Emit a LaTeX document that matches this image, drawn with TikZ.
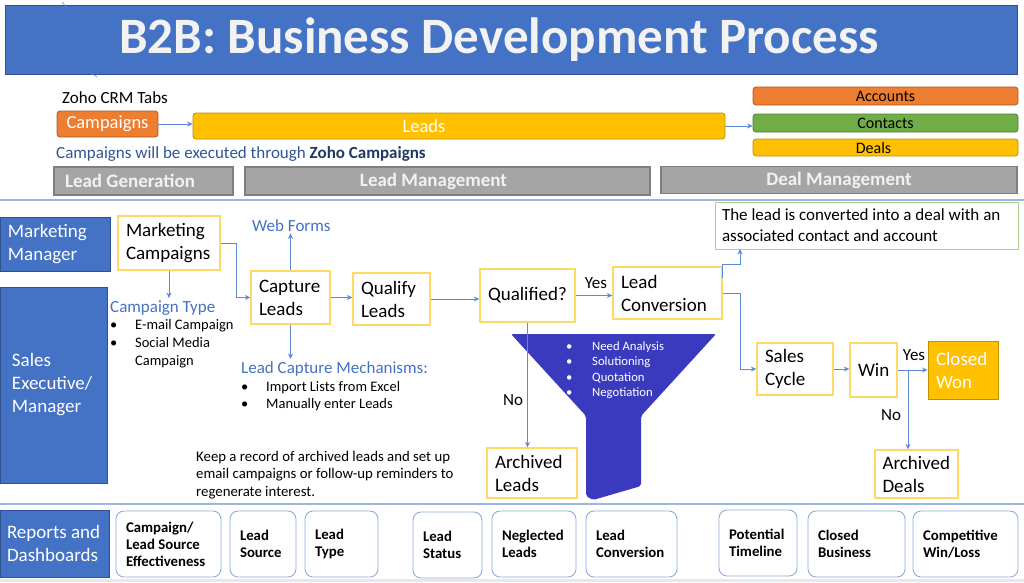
\documentclass[tikz,border=0pt]{standalone}
\usepackage{fontspec}
\setmainfont{Carlito}
\usetikzlibrary{arrows.meta}
\definecolor{tblue}{HTML}{4472C4}
\definecolor{tborder}{HTML}{2F528F}
\definecolor{orng}{HTML}{ED7D31}
\definecolor{orngb}{HTML}{AE5A21}
\definecolor{gold}{HTML}{FFC000}
\definecolor{goldb}{HTML}{BF9000}
\definecolor{grn}{HTML}{70AD47}
\definecolor{grnb}{HTML}{507E32}
\definecolor{greyf}{HTML}{A5A5A5}
\definecolor{greyb}{HTML}{7F7F7F}
\definecolor{ybord}{HTML}{FFD966}
\definecolor{ablue}{HTML}{5B8BD8}
\definecolor{sepblue}{HTML}{9DB7E3}
\definecolor{repb}{HTML}{8FAADC}
\definecolor{funnelc}{HTML}{3A3ABE}
\definecolor{navytext}{HTML}{2F5597}
\definecolor{navybold}{HTML}{203864}
\definecolor{notegreen}{HTML}{A9D18E}
\definecolor{titletext}{HTML}{F2F2F2}
\begin{document}
\hyphenpenalty=10000 \exhyphenpenalty=10000
\begin{tikzpicture}[x=1pt,y=-1pt,
  arr/.style={draw=ablue, line width=0.9pt, -{Stealth[length=5.5pt,width=5pt]}},
  yb/.style={draw=ybord, line width=1.3pt, fill=white, inner xsep=8pt, inner ysep=0pt, align=flush left, font=\fontsize{19}{23}\selectfont},
  role/.style={draw=tborder, line width=1pt, fill=tblue, text=white, inner ysep=0pt, align=flush left, font=\fontsize{19}{23}\selectfont},
  rep/.style={draw=repb, line width=0.9pt, rounded corners=8pt, fill=white, inner xsep=10pt, inner ysep=0pt, minimum height=66pt, align=flush left, font=\bfseries\fontsize{14.8}{17}\selectfont},
  gbar/.style={draw=greyb, line width=1.2pt, fill=greyf, text=titletext, font=\bfseries\fontsize{19}{22}\selectfont, inner sep=0pt},
  tab/.style={rounded corners=3pt, line width=0.8pt, inner sep=0pt},
  lbl/.style={font=\fontsize{17}{20}\selectfont, inner sep=1pt},
  bluehead/.style={text=tblue, font=\fontsize{17}{20}\selectfont, inner sep=2pt},
  blist/.style={anchor=north west, inner sep=0pt, align=flush left},
]
\useasboundingbox (0,0) rectangle (1024,582);
\fill[white] (0,0) rectangle (1024,582);
\fill[black!9] (0,578.5) rectangle (1024,582);

% title
\node[fill=tblue, draw=tborder, line width=1pt, minimum width=1012pt, minimum height=69pt, inner sep=0pt, text=titletext, font=\bfseries\fontsize{51}{60}\selectfont] (title) at (511,39.5) {B2B: Business Development Process\hspace*{24pt}};
\draw[ablue, line width=0.6pt] (62,2) -- (68,9);
\draw[ablue, line width=0.6pt] (91,73) -- (97,77);

% Zoho tabs
\node[anchor=base west, inner sep=0pt, font=\fontsize{17}{20}\selectfont] (zoho) at (62,103) {Zoho CRM Tabs};
\node[tab, fill=orng, draw=orngb, minimum width=101pt, minimum height=26pt, text=white, font=\fontsize{18.5}{22}\selectfont] (camp) at (107.5,124) {Campaigns};
\node[tab, fill=gold, draw=goldb, minimum width=532pt, minimum height=26pt, text=white, font=\fontsize{18.5}{22}\selectfont] (leads) at (459,126) {Leads\hspace*{70pt}};
\node[tab, fill=orng, draw=orngb, minimum width=265pt, minimum height=18pt, font=\fontsize{16}{18}\selectfont] (acc) at (885.5,96) {Accounts};
\node[tab, fill=grn, draw=grnb, minimum width=265pt, minimum height=18pt, font=\fontsize{16}{18}\selectfont] (cont) at (885.5,123) {Contacts};
\node[tab, fill=gold, draw=goldb, minimum width=265pt, minimum height=17pt, font=\fontsize{16}{18}\selectfont] (deals) at (885.5,147.5) {Deals\hspace*{24pt}};
\draw[arr] (camp.east) -- (camp.east -| leads.west);
\draw[arr] (leads.east) -- (leads.east -| cont.west);
\node[anchor=base west, inner sep=0pt, text=navytext, font=\fontsize{17}{20}\selectfont] (execnote) at (56,158) {Campaigns will be executed through \textcolor{navybold}{\bfseries Zoho Campaigns}};

% stage bars
\node[gbar, minimum width=179pt, minimum height=28pt, text width=157pt, inner xsep=11pt, align=flush left] (lg) at (143.5,181) {Lead Generation};
\node[gbar, minimum width=405pt, minimum height=28pt] (lm) at (447.5,181) {Lead Management\hspace*{28pt}};
\node[gbar, minimum width=356pt, minimum height=27pt] (dm) at (839,180) {Deal Management};

% separators
\draw[sepblue, line width=1.5pt] (0,200) -- (1024,200);
\draw[sepblue, line width=1.5pt] (0,504) -- (1024,504);

% role boxes
\node[role, text width=94pt, inner xsep=8pt, minimum height=54pt] (mm) at (55,244) {Marketing\\Manager};
\node[role, text width=83pt, inner xsep=12pt, minimum height=196pt] (se) at (53.5,385) {Sales\\Executive/\\Manager};
\node[role, text width=95pt, inner xsep=7pt, minimum height=67pt] (rd) at (54.5,543.5) {\mbox{Reports and}\\Dashboards};

% process boxes
\node[yb, text width=86pt, minimum height=54pt] (mc) at (169,243) {Marketing\\Campaigns};
\node[yb, text width=63pt, minimum height=53pt] (cl) at (290.5,297.5) {Capture\\Leads};
\node[yb, text width=61pt, minimum height=52pt] (ql) at (391.5,299) {Qualify\\Leads};
\node[yb, text width=79pt, minimum height=53pt] (q) at (527.5,295.5) {Qualified?};
\node[yb, text width=93pt, minimum height=52pt] (lc) at (667.5,293) {Lead\\Conversion};
\node[yb, text width=60pt, minimum height=52pt] (sc) at (795,369) {Sales\\Cycle};
\node[yb, text width=31pt, minimum height=54pt] (win) at (873.5,370) {Win};
\node[yb, draw=goldb, line width=1pt, fill=gold, text=white, text width=54pt, minimum height=58pt] (cw) at (963,370) {Closed\\Won};
\node[yb, text width=74pt, minimum height=50pt] (al) at (532,473) {Archived\\Leads};
\node[yb, text width=68pt, inner xsep=7.5pt, minimum height=48pt] (ad) at (916.5,474) {Archived\\Deals};

% note box
\node[draw=notegreen, line width=1pt, fill=white, text width=289pt, inner xsep=7pt, inner ysep=0pt, minimum height=47pt, align=flush left, font=\fontsize{17}{21}\selectfont] (note) at (866.5,225.5) {The lead is converted into a deal with an\\associated contact and account};

% annotations
\node[bluehead, anchor=base west] (ctype) at (108,312) {Campaign Type};
\node[blist, font=\fontsize{14.5}{18}\selectfont] (ctlist) at (110,319) {\makebox[25pt][l]{\textbullet}E-mail Campaign\\\makebox[25pt][l]{\textbullet}Social Media\\\hspace*{25pt}Campaign};
\node[bluehead, anchor=base west] (wf) at (250,231) {Web Forms};
\node[bluehead, anchor=base west] (lcm) at (239,373) {Lead Capture Mechanisms:};
\node[blist, font=\fontsize{14.5}{17}\selectfont] (lcmlist) at (241,381) {\makebox[25pt][l]{\textbullet}Import Lists from Excel\\\makebox[25pt][l]{\textbullet}Manually enter Leads};
\node[blist, font=\fontsize{14.8}{17.5}\selectfont] (keep) at (196,451) {Keep a record of archived leads and set up\\email campaigns or follow-up reminders to\\regenerate interest.};

% funnel
\fill[funnelc, rounded corners=2pt] (511,334) -- (716,334) -- (641,416) -- (641,486) -- (593,500) -- (586,496) -- (586,416) -- cycle;
\node[blist, text=white, font=\fontsize{12.7}{15.5}\selectfont] (funnellist) at (566,341) {\makebox[26pt][l]{\textbullet}Need Analysis\\\makebox[26pt][l]{\textbullet}Solutioning\\\makebox[26pt][l]{\textbullet}Quotation\\\makebox[26pt][l]{\textbullet}Negotiation};

% connectors
\draw[arr] (mc.south) -- (mc.south |- ctype.north);
\draw[arr] (mc.east) -- ++(16,0) |- (cl.west);
\draw[arr] (cl.north) -- (cl.north |- wf.south);
\draw[arr] (cl.south) -- (cl.south |- lcm.north);
\draw[arr] (cl.east) -- (cl.east -| ql.west);
\draw[arr] (ql.east) -- (ql.east -| q.west);
\draw[arr] (q.east) -- (q.east -| lc.west);
\node[lbl] (yes1) at (596,283) {Yes};
\coordinate (gtip) at (740,249);
\draw[arr] ([yshift=-12pt]lc.north east) -- ++(0,-14) -| (gtip);
\draw[arr] (lc.east) -- ++(18,0) |- (sc.west);
\draw[arr] (sc.east) -- (sc.east -| win.west);
\draw[arr] (win.east) -- (win.east -| cw.west);
\node[lbl] (yes2) at (914,355) {Yes};
\coordinate (wsplit) at (908,370);
\draw[arr] (wsplit) -- (wsplit |- ad.north);
\node[lbl] (no2) at (891,415) {No};
\draw[arr] (q.south) -- (q.south |- al.north);
\node[lbl] (no1) at (513,400) {No};

% reports
\node[rep, text width=85pt] (r1) at (168.5,544) {Campaign/\\\mbox{Lead Source}\\Effectiveness};
\node[rep, text width=46pt] (r2) at (263,544) {Lead\\Source};
\node[rep, text width=53pt] (r3) at (341.5,544) {Lead\\Type};
\node[rep, text width=49pt] (r4) at (447.5,545) {Lead\\Status};
\node[rep, text width=64pt] (r5) at (534,544) {Neglected\\Leads};
\node[rep, text width=71pt] (r6) at (631.5,544) {Lead\\Conversion};
\node[rep, text width=58pt] (r7) at (758,543) {Potential\\Timeline};
\node[rep, text width=77pt] (r8) at (856.5,544) {Closed\\Business};
\node[rep, text width=85pt] (r9) at (965.5,544) {Competitive\\Win/Loss};
\end{tikzpicture}
\end{document}
